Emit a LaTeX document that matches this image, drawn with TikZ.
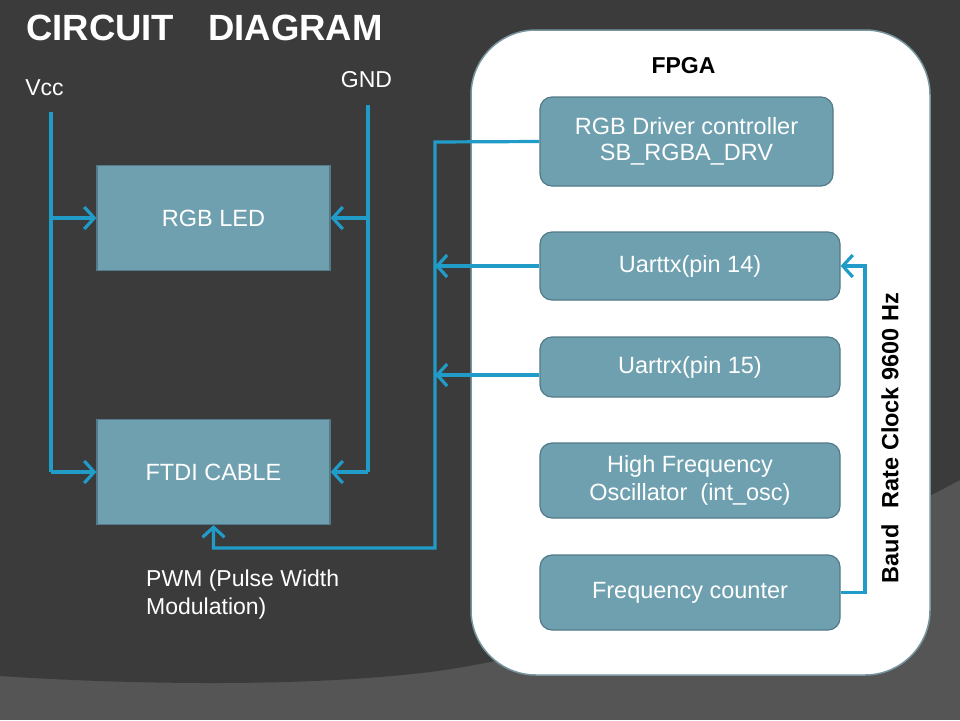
\documentclass[tikz,border=0pt]{standalone}
\usepackage{fontspec}
\setmainfont{Liberation Sans}
\usetikzlibrary{arrows.meta}
\definecolor{bgdark}{RGB}{59,59,59}
\definecolor{bglight}{RGB}{85,85,85}
\definecolor{boxfill}{RGB}{111,160,175}
\definecolor{boxline}{RGB}{82,122,136}
\definecolor{wirec}{RGB}{33,155,200}
\definecolor{fpgaline}{RGB}{120,150,160}
\tikzset{
  blk/.style={draw=boxline, line width=1.2pt, fill=boxfill, text=white, align=center,
    font=\fontsize{23.5}{28}\selectfont, inner sep=0pt},
  fblk/.style={blk, rounded corners=12pt, minimum width=300pt},
  wire/.style={draw=wirec, line width=3.2pt},
  arr/.style={wire, -{Straight Barb[length=10pt,width=22pt,line width=3.2pt]}},
  lbl/.style={text=white, font=\fontsize{23}{28}\selectfont, inner sep=0pt},
}
\begin{document}
\begin{tikzpicture}[x=1pt,y=-1pt]
\useasboundingbox (0,0) rectangle (960,720);
% background
\fill[bglight] (0,0) rectangle (960,720);
\fill[bgdark] (0,0) -- (960,0) -- (960,480) .. controls (800,565) and (600,650) .. (430,672)
  .. controls (300,688) and (120,684) .. (0,676) -- cycle;
% title
\node[text=white, font=\fontsize{36.5}{40}\bfseries, anchor=west, inner sep=0pt] (title) at (26,28) {CIRCUIT\hspace{34pt}DIAGRAM};
\node[lbl] (vcc) at (44.5,88) {Vcc};
\node[lbl] (gnd) at (366.5,80) {GND};
% left blocks
\node[blk, minimum width=233pt, minimum height=105pt] (rgbled) at (213.5,218) {RGB LED};
\node[blk, minimum width=233pt, minimum height=105pt] (ftdi) at (213.5,472) {FTDI CABLE};
\node[lbl, align=left, anchor=north west] (pwm) at (146,570) {PWM (Pulse Width\\Modulation)};
% FPGA container
\node[draw=fpgaline, line width=1.5pt, fill=white, rounded corners=65pt,
      minimum width=459pt, minimum height=645pt] (fpga) at (700.5,352.5) {};
\node[font=\fontsize{23}{26}\bfseries, inner sep=0pt] (fpgalbl) at (683.5,66) {FPGA};
\node[fblk, minimum width=293pt, minimum height=89pt] (drv) at (686.5,141.5) {\raisebox{-2pt}{RGB Driver controller}\\SB\_RGBA\_DRV};
\node[fblk, minimum height=68pt] (utx) at (690,266) {Uarttx(pin 14)};
\node[fblk, minimum height=60pt] (urx) at (690,367) {Uartrx(pin 15)};
\node[fblk, minimum height=75pt] (hfo) at (690,480.5) {High Frequency\\Oscillator\ \ (int\_osc)};
\node[fblk, minimum height=75pt] (fc) at (690,592.5) {Frequency counter};
\node[rotate=90, font=\fontsize{23.5}{26}\bfseries, inner sep=0pt] (baud) at (890,438) {Baud\hspace{16pt}Rate Clock 9600 Hz};
% coordinates
\coordinate (vtop) at (51,112);
\coordinate (vmid) at (51,218);
\coordinate (vbot) at (51,472);
\coordinate (gtop) at (368,105);
\coordinate (gmid) at (368,218);
\coordinate (gbot) at (368,472);
\coordinate (bus) at (435,142);
\coordinate (busbot) at (435,548);
\coordinate (pwmcorner) at (213.5,548);
\coordinate (txend) at (435,266);
\coordinate (rxend) at (435,375);
\coordinate (fcr) at (865,592.5);
\coordinate (utxr) at (865,266);
% power wires
\draw[wire] (vtop) -- (vbot);
\draw[arr] (vmid) -- (rgbled.west);
\draw[arr] (vbot) -- (ftdi.west);
\draw[wire] (gtop) -- (gbot);
\draw[arr] (gmid) -- (rgbled.east);
\draw[arr] (gbot) -- (ftdi.east);
% PWM
\draw[arr] (drv.west) -- (bus) -- (busbot) -- (pwmcorner) -- (ftdi.south);
\draw[arr] (utx.west) -- (txend);
\draw[arr] (urx.west |- rxend) -- (rxend);
% baud clock
\draw[arr] (fc.east) -- (fcr) -- (utxr) -- (utx.east);
\end{tikzpicture}
\end{document}
